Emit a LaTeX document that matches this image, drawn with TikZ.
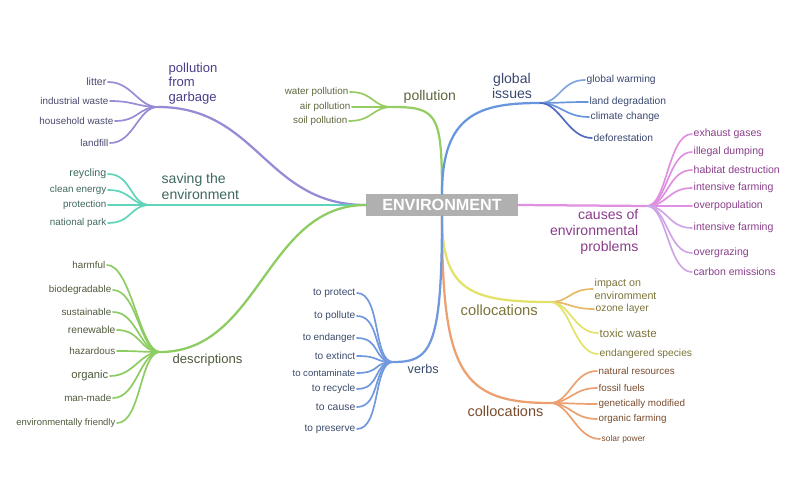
\documentclass[tikz,border=0pt]{standalone}
\usepackage{fontspec}
\setmainfont{Liberation Sans}
\usetikzlibrary{calc}

\definecolor{envgray}{RGB}{176,176,176}
\definecolor{garbageline}{RGB}{150,140,214}
\definecolor{garbagehead}{RGB}{72,62,140}
\definecolor{garbagetext}{RGB}{72,72,110}
\definecolor{savingline}{RGB}{96,212,184}
\definecolor{savingtext}{RGB}{62,104,94}
\definecolor{descrline}{RGB}{140,204,96}
\definecolor{descrtext}{RGB}{78,90,60}
\definecolor{pollline}{RGB}{150,204,100}
\definecolor{polltext}{RGB}{92,104,60}
\definecolor{globalline}{RGB}{104,150,222}
\definecolor{globallight}{RGB}{130,165,222}
\definecolor{globaldark}{RGB}{80,106,190}
\definecolor{globaltext}{RGB}{58,72,112}
\definecolor{causesline}{RGB}{224,144,224}
\definecolor{causeslight}{RGB}{206,166,230}
\definecolor{causestext}{RGB}{138,62,138}
\definecolor{collyline}{RGB}{226,226,104}
\definecolor{collyorange}{RGB}{232,186,104}
\definecolor{collytext}{RGB}{122,116,56}
\definecolor{colloline}{RGB}{236,160,112}
\definecolor{collotext}{RGB}{122,76,46}
\definecolor{verbsline}{RGB}{112,152,222}
\definecolor{verbstext}{RGB}{58,74,106}

\tikzset{
	trunk/.style={line width=1.6pt, line cap=round},
	twig/.style={line width=1.2pt, line cap=round},
	leaf/.style={inner sep=1pt, font=\fontsize{7}{8}\selectfont},
	head/.style={inner sep=1pt, font=\fontsize{10}{11.4}\selectfont},
}
\def\twigL[#1](#2)(#3){\draw[twig, #1] (#2) .. controls +(-20, 0) and +(24, 0) .. (#3.east);}
\def\twigR[#1](#2)(#3){\draw[twig, #1] (#2) .. controls +(20, 0) and +(-24, 0) .. (#3.west);}

\begin{document}
\begin{tikzpicture}[x=0.25mm, y=-0.25mm]
			%%%%% START %%%%%
			\useasboundingbox (0, 0) rectangle (800, 500);
			
			\node[fill=envgray, text=white, font=\bfseries\fontsize{11.5}{13}\selectfont, minimum width=38mm, minimum height=5.5mm, inner sep=0pt] (env) at (442, 205) {ENVIRONMENT};
			
			\coordinate (garbagehub) at (158, 107);
			\coordinate (savinghub) at (150, 205);
			\coordinate (descrhub) at (160, 352);
			\coordinate (pollhub) at (392, 107);
			\coordinate (globalhub) at (540, 103);
			\coordinate (causeshub) at (647, 206);
			\coordinate (collyhub) at (550, 302);
			\coordinate (collohub) at (550, 403);
			\coordinate (verbshub) at (393, 362);
			
			\draw[trunk, garbageline] (env.west) .. controls +(-100, 0) and +(100, 0) .. (garbagehub);
			\draw[trunk, savingline] (env.west) -- (savinghub);
			\draw[trunk, descrline] (env.west) .. controls +(-100, 0) and +(100, 0) .. (descrhub);
			\draw[trunk, pollline] (env.north) .. controls +(0, -80) and +(45, 0) .. (pollhub);
			\draw[trunk, globalline] (env.north) .. controls +(0, -80) and +(-60, 0) .. (globalhub);
			\draw[trunk, causesline] (env.east) -- (causeshub);
			\draw[trunk, collyline] (env.south) .. controls +(0, 74) and +(-80, 0) .. (collyhub);
			\draw[trunk, colloline] (env.south) .. controls +(0, 154) and +(-90, 0) .. (collohub);
			\draw[trunk, verbsline] (env.south) .. controls +(0, 134) and +(37, 0) .. (verbshub);
			
			% pollution from garbage
			\node[head, align=left, anchor=south west, text=garbagehead, font=\fontsize{9.3}{10.4}\selectfont] (garbagelabel) at (167, 106) {pollution\\from\\garbage};
			\node[leaf, anchor=east, text=garbagetext, font=\fontsize{7.5}{8}\selectfont] (litter) at (108, 82) {litter};
			\node[leaf, anchor=east, text=garbagetext] (industrial) at (110, 101) {industrial waste};
			\node[leaf, anchor=east, text=garbagetext] (household) at (115, 121) {household waste};
			\node[leaf, anchor=east, text=garbagetext] (landfill) at (110, 143) {landfill};
			\twigL[garbageline](garbagehub)(litter)
			\twigL[garbageline](garbagehub)(industrial)
			\twigL[garbageline](garbagehub)(household)
			\twigL[garbageline](garbagehub)(landfill)
			
			% saving the environment
			\node[head, align=left, anchor=south west, text=savingtext] (savinglabel) at (160, 201) {saving the\\environment};
			\node[leaf, anchor=east, text=savingtext, font=\fontsize{7.6}{8}\selectfont] (reycling) at (108, 174) {reycling};
			\node[leaf, anchor=east, text=savingtext] (cleanenergy) at (108, 190) {clean energy};
			\node[leaf, anchor=east, text=savingtext] (protection) at (108, 205) {protection};
			\node[leaf, anchor=east, text=savingtext] (nationalpark) at (108, 223) {national park};
			\twigL[savingline](savinghub)(reycling)
			\twigL[savingline](savinghub)(cleanenergy)
			\twigL[savingline](savinghub)(protection)
			\twigL[savingline](savinghub)(nationalpark)
			
			% descriptions
			\node[head, anchor=base west, text=descrtext, font=\fontsize{9.3}{10}\selectfont] (descrlabel) at (171, 363.5) {descriptions};
			\node[leaf, anchor=east, text=descrtext] (harmful) at (107, 265) {harmful};
			\node[leaf, anchor=east, text=descrtext] (biodegradable) at (113, 290) {biodegradable};
			\node[leaf, anchor=east, text=descrtext] (sustainable) at (113, 312) {sustainable};
			\node[leaf, anchor=east, text=descrtext, font=\fontsize{7.3}{8}\selectfont] (renewable) at (117, 330) {renewable};
			\node[leaf, anchor=east, text=descrtext] (hazardous) at (117, 351) {hazardous};
			\node[leaf, anchor=east, text=descrtext, font=\fontsize{8}{9}\selectfont] (organic) at (110, 376) {organic};
			\node[leaf, anchor=east, text=descrtext] (manmade) at (113, 398) {man-made};
			\node[leaf, anchor=east, text=descrtext, font=\fontsize{6.7}{8}\selectfont] (envfriendly) at (117, 423) {environmentally friendly};
			\twigL[descrline](descrhub)(harmful)
			\twigL[descrline](descrhub)(biodegradable)
			\twigL[descrline](descrhub)(sustainable)
			\twigL[descrline](descrhub)(renewable)
			\twigL[descrline](descrhub)(hazardous)
			\twigL[descrline](descrhub)(organic)
			\twigL[descrline](descrhub)(manmade)
			\twigL[descrline](descrhub)(envfriendly)
			
			% pollution
			\node[head, anchor=base west, text=polltext] (polllabel) at (402, 101) {pollution};
			\node[leaf, anchor=east, text=polltext] (water) at (350, 92) {water pollution};
			\node[leaf, anchor=east, text=polltext] (air) at (352, 107) {air pollution};
			\node[leaf, anchor=east, text=polltext] (soil) at (349, 121) {soil pollution};
			\twigL[pollline](pollhub)(water)
			\twigL[pollline](pollhub)(air)
			\twigL[pollline](pollhub)(soil)
			
			% global issues
			\node[head, align=center, anchor=south, text=globaltext, font=\fontsize{10}{10.7}\selectfont] (globallabel) at (512, 100) {global\\issues};
			\node[leaf, anchor=west, text=globaltext, font=\fontsize{7.3}{8}\selectfont] (warming) at (585, 80) {global warming};
			\node[leaf, anchor=west, text=globaltext, font=\fontsize{7.3}{8}\selectfont] (degradation) at (588, 102) {land degradation};
			\node[leaf, anchor=west, text=globaltext, font=\fontsize{7.3}{8}\selectfont] (climate) at (589, 117) {climate change};
			\node[leaf, anchor=west, text=globaltext, font=\fontsize{7.3}{8}\selectfont] (deforestation) at (592, 138) {deforestation};
			\twigR[globallight](globalhub)(warming)
			\twigR[globalline](globalhub)(degradation)
			\twigR[globalline](globalhub)(climate)
			\twigR[globaldark](globalhub)(deforestation)
			
			% causes of environmental problems
			\node[head, align=right, anchor=north east, text=causestext] (causeslabel) at (640, 208) {causes of\\environmental\\problems};
			\node[leaf, anchor=west, text=causestext, font=\fontsize{7.5}{8}\selectfont] (exhaust) at (692, 134) {exhaust gases};
			\node[leaf, anchor=west, text=causestext, font=\fontsize{7.5}{8}\selectfont] (dumping) at (692, 152) {illegal dumping};
			\node[leaf, anchor=west, text=causestext, font=\fontsize{7.5}{8}\selectfont] (habitat) at (692, 170) {habitat destruction};
			\node[leaf, anchor=west, text=causestext, font=\fontsize{7.5}{8}\selectfont] (farmingA) at (692, 188) {intensive farming};
			\node[leaf, anchor=west, text=causestext, font=\fontsize{7.5}{8}\selectfont] (overpopulation) at (692, 206) {overpopulation};
			\node[leaf, anchor=west, text=causestext, font=\fontsize{7.5}{8}\selectfont] (farmingB) at (692, 228) {intensive farming};
			\node[leaf, anchor=west, text=causestext, font=\fontsize{7.5}{8}\selectfont] (overgrazing) at (692, 253) {overgrazing};
			\node[leaf, anchor=west, text=causestext, font=\fontsize{7.5}{8}\selectfont] (carbon) at (692, 272) {carbon emissions};
			\twigR[causesline](causeshub)(exhaust)
			\twigR[causesline](causeshub)(dumping)
			\twigR[causesline](causeshub)(habitat)
			\twigR[causesline](causeshub)(farmingA)
			\twigR[causesline](causeshub)(overpopulation)
			\twigR[causeslight](causeshub)(farmingB)
			\twigR[causeslight](causeshub)(overgrazing)
			\twigR[causeslight](causeshub)(carbon)
			
			% collocations (yellow)
			\node[head, anchor=base west, text=collytext, font=\fontsize{10.5}{11}\selectfont] (collylabel) at (459, 315.7) {collocations};
			\node[leaf, align=left, anchor=west, text=collytext, font=\fontsize{7.6}{8.8}\selectfont] (impact) at (593, 289) {impact on\\enviromment};
			\node[leaf, anchor=west, text=collytext, font=\fontsize{7.3}{8}\selectfont] (ozone) at (594, 309) {ozone layer};
			\node[leaf, anchor=west, text=collytext, font=\fontsize{8.2}{9}\selectfont] (toxic) at (598, 333) {toxic waste};
			\node[leaf, anchor=west, text=collytext, font=\fontsize{7.3}{8}\selectfont] (endangered) at (598, 354) {endangered species};
			\twigR[collyorange](collyhub)(impact)
			\twigR[collyorange](collyhub)(ozone)
			\twigR[collyline](collyhub)(toxic)
			\twigR[collyline](collyhub)(endangered)
			
			% collocations (orange)
			\node[head, anchor=base west, text=collotext, font=\fontsize{10.3}{11}\selectfont] (collolabel) at (466, 416.7) {collocations};
			\node[leaf, anchor=west, text=collotext] (natural) at (597, 371) {natural resources};
			\node[leaf, anchor=west, text=collotext] (fossil) at (597, 388) {fossil fuels};
			\node[leaf, anchor=west, text=collotext] (genetically) at (597, 404) {genetically modified};
			\node[leaf, anchor=west, text=collotext] (organicfarming) at (597, 419) {organic farming};
			\node[leaf, anchor=west, text=collotext, font=\fontsize{6}{7}\selectfont] (solar) at (600, 439) {solar power};
			\twigR[colloline](collohub)(natural)
			\twigR[colloline](collohub)(fossil)
			\twigR[colloline](collohub)(genetically)
			\twigR[colloline](collohub)(organicfarming)
			\twigR[colloline](collohub)(solar)
			
			% verbs
			\node[head, anchor=base west, text=verbstext, font=\fontsize{9}{10}\selectfont] (verbslabel) at (406, 373.3) {verbs};
			\node[leaf, anchor=east, text=verbstext, font=\fontsize{7.2}{8}\selectfont] (protect) at (357, 293) {to protect};
			\node[leaf, anchor=east, text=verbstext, font=\fontsize{7.2}{8}\selectfont] (pollute) at (357, 316) {to pollute};
			\node[leaf, anchor=east, text=verbstext] (endanger) at (357, 338) {to endanger};
			\node[leaf, anchor=east, text=verbstext, font=\fontsize{7.2}{8}\selectfont] (extinct) at (357, 356) {to extinct};
			\node[leaf, anchor=east, text=verbstext, font=\fontsize{6.8}{8}\selectfont] (contaminate) at (357, 373) {to contaminate};
			\node[leaf, anchor=east, text=verbstext, font=\fontsize{7.2}{8}\selectfont] (recycle) at (357, 389) {to recycle};
			\node[leaf, anchor=east, text=verbstext, font=\fontsize{7.4}{8}\selectfont] (cause) at (357, 407) {to cause};
			\node[leaf, anchor=east, text=verbstext, font=\fontsize{7.2}{8}\selectfont] (preserve) at (357, 429) {to preserve};
			\twigL[verbsline](verbshub)(protect)
			\twigL[verbsline](verbshub)(pollute)
			\twigL[verbsline](verbshub)(endanger)
			\twigL[verbsline](verbshub)(extinct)
			\twigL[verbsline](verbshub)(contaminate)
			\twigL[verbsline](verbshub)(recycle)
			\twigL[verbsline](verbshub)(cause)
			\twigL[verbsline](verbshub)(preserve)
			
			%%%%% END %%%%%
\end{tikzpicture}
\end{document}
